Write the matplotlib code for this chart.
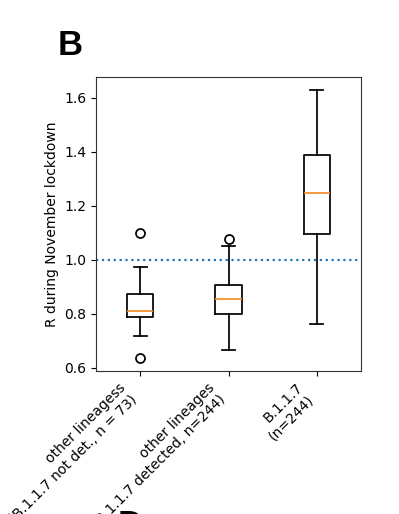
import matplotlib
matplotlib.use("Agg")
import matplotlib.pyplot as plt

# box statistics
labels = [
    "other lineagess\n(B.1.1.7 not det., n = 73)",
    "other lineages\n(B.1.1.7 detected, n=244)",
    "B.1.1.7\n(n=244)",
]
whislo = [0.717, 0.666, 0.762]
q1 = [0.787, 0.801, 1.095]
med = [0.810, 0.854, 1.248]
q3 = [0.873, 0.906, 1.390]
whishi = [0.974, 1.052, 1.628]
fliers = [[1.101, 0.635], [1.077], []]

stats = [
    dict(label=lab, whislo=lo, q1=a, med=m, q3=b, whishi=hi, fliers=fl)
    for lab, lo, a, m, b, hi, fl in zip(labels, whislo, q1, med, q3, whishi, fliers)
]

fig = plt.figure(figsize=(3.99, 5.14), dpi=100)
ax = fig.add_axes([0.2406, 0.278, 0.6642, 0.572])

lw = 1.25
ax.bxp(
    stats,
    boxprops=dict(linewidth=lw),
    whiskerprops=dict(linewidth=lw),
    capprops=dict(linewidth=lw),
    medianprops=dict(linewidth=lw, color="#f28e2b"),
    flierprops=dict(markeredgewidth=lw, markersize=6.5),
)
ax.axhline(1.0, linestyle=":", color="tab:blue", linewidth=1.6)

ax.set_ylim(0.588, 1.677)
ax.set_yticks([0.6, 0.8, 1.0, 1.2, 1.4, 1.6])
ax.set_ylabel("R during November lockdown")
for s in ax.spines.values():
    s.set_color("#333333")
plt.setp(ax.get_xticklabels(), rotation=45, ha="right")

fig.text(57.5 / 399, 1 - 55 / 514, "B", fontsize=25, fontweight="bold",
         family="Liberation Sans", va="baseline")
fig.text(118 / 399, 1 - 535 / 514, "D", fontsize=25, fontweight="bold",
         family="Liberation Sans", va="baseline")

fig.savefig("out.png", dpi=100)
